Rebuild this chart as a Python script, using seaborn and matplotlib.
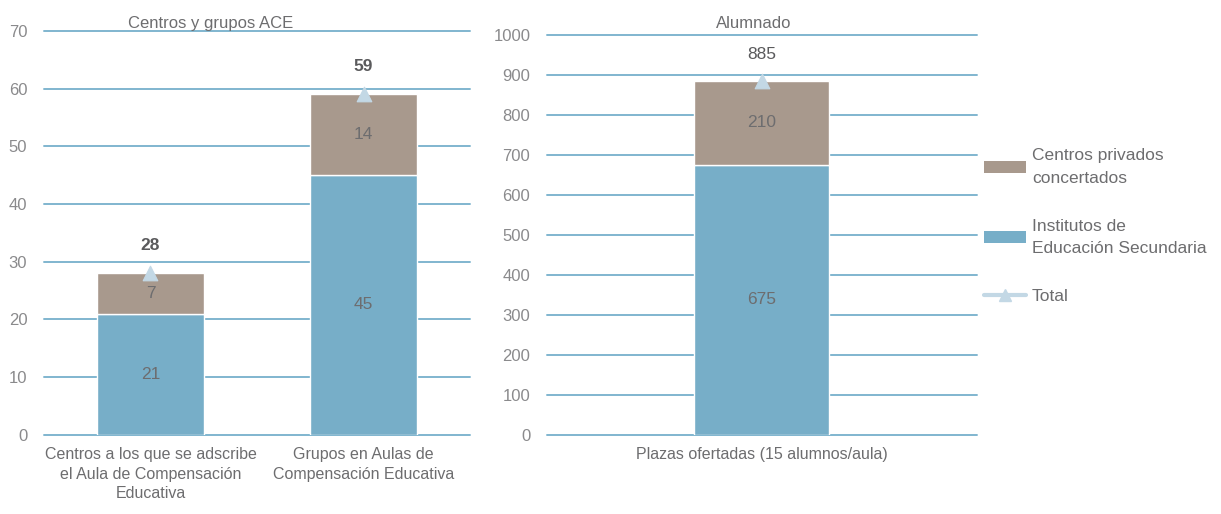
import matplotlib
matplotlib.use("Agg")
import matplotlib.pyplot as plt
from matplotlib.lines import Line2D
from matplotlib.patches import Patch
import seaborn as sns
import pandas as pd

# Datos
cat_centros = ["Centros a los que se adscribe\nel Aula de Compensación\nEducativa",
               "Grupos en Aulas de\nCompensación Educativa"]
ies_centros = [21, 45]
privados_centros = [7, 14]
total_centros = [28, 59]

cat_alumnado = ["Plazas ofertadas (15 alumnos/aula)"]
ies_alumnado = [675]
privados_alumnado = [210]
total_alumnado = [885]

legend_labels = ["Centros privados\nconcertados", "Institutos de\nEducación Secundaria", "Total"]

AZUL = "#77aec8"
MARRON = "#a8998d"
TOTAL = "#c3d8e5"
GRID = "#80b5cf"
TEXTO = "#6d6d6f"
TICKS = "#8a8a8c"

sns.set_theme(style="white")
plt.rcParams["font.family"] = ["Liberation Sans", "DejaVu Sans"]

fig = plt.figure(figsize=(12.21, 5.14), dpi=100)
ax1 = fig.add_axes([0.036, 0.154, 0.349, 0.786])
ax2 = fig.add_axes([0.448, 0.154, 0.352, 0.778])


def dibujar(ax, cats, ies, priv, total, width, bold_total, offset):
    df = pd.DataFrame({"cat": cats, "ies": ies, "priv": priv, "total": total})
    sns.barplot(data=df, x="cat", y="ies", color=AZUL, width=width,
                saturation=1, ax=ax, zorder=3)
    sns.barplot(data=df, x="cat", y="priv", color=MARRON, width=width,
                saturation=1, bottom=df["ies"], ax=ax, zorder=3)
    sns.scatterplot(x=range(len(cats)), y=df["total"], marker="^", s=110,
                    color=TOTAL, edgecolor=TOTAL, ax=ax, zorder=4)
    for i, row in df.iterrows():
        ax.text(i, row["ies"] / 2, f"{row['ies']}", ha="center", va="center",
                fontsize=12.5, color=TEXTO, zorder=5)
        ax.text(i, row["ies"] + row["priv"] / 2, f"{row['priv']}", ha="center",
                va="center", fontsize=12.5, color=TEXTO, zorder=5)
        ax.text(i, row["total"] + offset, f"{row['total']}", ha="center",
                va="center", fontsize=12.5, color="#5a5a5c",
                fontweight="bold" if bold_total else "normal", zorder=5)
    ax.yaxis.grid(True, color=GRID, linewidth=1.4, zorder=0)
    ax.xaxis.grid(False)
    sns.despine(ax=ax, left=True, bottom=True)
    ax.set_xlabel("")
    ax.set_ylabel("")
    ax.tick_params(axis="x", length=0, labelsize=11.5, labelcolor=TEXTO, pad=9)
    ax.tick_params(axis="y", length=0, pad=12, labelsize=12, labelcolor=TICKS)
    for t in ax.get_xticklabels():
        t.set_linespacing(1.35)


dibujar(ax1, cat_centros, ies_centros, privados_centros, total_centros,
        0.5, True, 4.8)
ax1.set_ylim(0, 70)
ax1.set_yticks(range(0, 71, 10))
ax1.set_xlim(-0.5, 1.5)
ax1.text(0.39, 1.0, "Centros y grupos ACE", transform=ax1.transAxes,
         ha="center", va="bottom", fontsize=12, color=TEXTO)

dibujar(ax2, cat_alumnado, ies_alumnado, privados_alumnado, total_alumnado,
        0.314, False, 65)
ax2.set_ylim(0, 1000)
ax2.set_yticks(range(0, 1001, 100))
ax2.set_xlim(-0.5, 0.5)
ax2.text(0.48, 1.01, "Alumnado", transform=ax2.transAxes,
         ha="center", va="bottom", fontsize=12, color=TEXTO)

for ax in (ax1, ax2):
    for gl in ax.get_ygridlines():
        gl.set_clip_on(False)

handles = [
    Patch(facecolor=MARRON, edgecolor="none"),
    Patch(facecolor=AZUL, edgecolor="none"),
    Line2D([0], [0], color=TOTAL, linewidth=3, marker="^", markersize=9,
           markerfacecolor=TOTAL, markeredgecolor=TOTAL),
]
leg = fig.legend(handles, legend_labels, loc="center left",
                 bbox_to_anchor=(0.806, 0.56), frameon=False, fontsize=12.5,
                 labelcolor=TEXTO, handlelength=2.4, handleheight=0.7,
                 handletextpad=0.35, labelspacing=1.9, borderpad=0,
                 borderaxespad=0)
for t in leg.get_texts():
    t.set_linespacing(1.6)

fig.savefig("out.png", dpi=100)
